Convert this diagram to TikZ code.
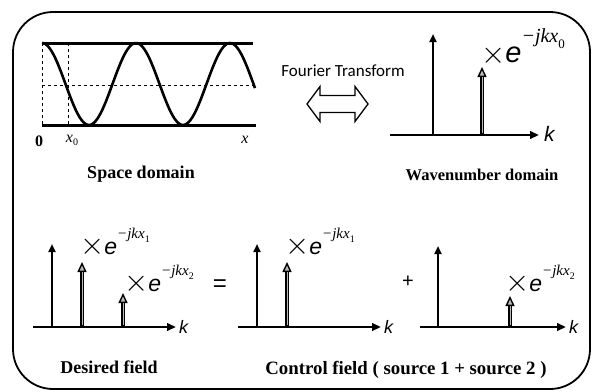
\documentclass[tikz,border=0pt]{standalone}
\usepackage{fontspec}
\setmainfont{Liberation Serif}
\setsansfont{Liberation Sans}
\newfontfamily\calib{Carlito}
\usetikzlibrary{arrows.meta}
% #1 e size, #2 exponent size, #3 raise, #4 subscript, #5 subscript size
\newcommand\mylab[5]{%
  \mbox{\fontsize{#1}{#1}\selectfont\raisebox{-0.04em}{\scalebox{1.25}{$\times$}}\sffamily\textit{e}}%
  \raisebox{#3}{\rmfamily\fontsize{#2}{#2}\selectfont\textit{−jkx}\raisebox{-0.3em}{\fontsize{#5}{#5}\selectfont #4}}}
\newcommand\ghostarrow[2]{%
  \draw[line width=4.6pt, black, -{Triangle[length=10pt,width=9pt,fill=gray!55,line width=1.4pt]}] (#1) -- (#2);
  \draw[line width=0.8pt, gray!55, shorten >=10pt, shorten <=2pt] (#1) -- (#2);}
\begin{document}
\begin{tikzpicture}[x=1pt,y=-1pt,
  stem/.style={line width=2.8pt, -{Triangle[length=8pt,width=7pt]}},
  axisline/.style={line width=2.8pt, -{Triangle[length=9pt,width=7.5pt]}},
  title/.style={font=\fontsize{18}{20}\selectfont\bfseries, anchor=base},
  klab/.style={font=\sffamily\itshape\fontsize{18}{18}\selectfont, anchor=west, inner sep=1pt},
  lab/.style={anchor=base west, inner sep=0pt}]
\useasboundingbox (0,0) rectangle (593,391);
% frame
\draw[line width=1.8pt, rounded corners=40pt] (13,12) rectangle (590,389);

% ---------- space domain ----------
\draw[line width=3pt] (42,43) -- (253,43);
\draw[line width=3pt] (42,125) -- (256,125);
\draw[dashed, line width=0.8pt] (42,43) -- (42,125);
\draw[dashed, line width=0.8pt] (68,43) -- (68,125);
\draw[dashed, line width=0.8pt] (42,85) -- (253,85);
\draw[line width=2.6pt, domain=42:255, samples=120, smooth] plot (\x, {84-41*cos((\x-42)/94*360)});
\node[font=\fontsize{16}{16}\selectfont\bfseries] (zero) at (39,141) {0};
\node[font=\fontsize{16}{16}\selectfont] (xz) at (72,140) {\textit{x}\raisebox{-3pt}{\fontsize{10}{10}\selectfont 0}};
\node[font=\fontsize{16}{16}\selectfont] (xx) at (245,140) {\textit{x}};
\node[title] (sd) at (141,178) {Space domain};

% ---------- Fourier transform ----------
\node[font=\calib\fontsize{17}{17}\selectfont] (ft) at (343,71) {Fourier Transform};
\draw[line width=1.3pt, line join=miter] (307,104) -- (320,86.5) -- (320,95.5) -- (355,95.5) -- (355,86.5)
  -- (368,104) -- (355,121.5) -- (355,112.5) -- (320,112.5) -- (320,121.5) -- cycle;

% ---------- wavenumber domain ----------
\coordinate (wa0) at (390,135); \coordinate (wa1) at (539,135);
\draw[axisline] (wa0) -- (wa1);
\node[klab, font=\sffamily\itshape\fontsize{21}{21}\selectfont] (wk) at (543,134) {k};
\coordinate (wb0) at (433,135); \coordinate (wb1) at (433,34);
\draw[stem] (wb0) -- (wb1);
\coordinate (ws0) at (482,135); \coordinate (ws1) at (482,67);
\ghostarrow{ws0}{ws1}
\node[lab] (wl) at (481,62) {\mylab{29}{20}{20pt}{0}{13}};
\node[title, font=\fontsize{16.5}{20}\selectfont\bfseries] (wd) at (482,180) {Wavenumber domain};

% ---------- desired field ----------
\coordinate (da0) at (33,327); \coordinate (da1) at (176,327);
\draw[axisline] (da0) -- (da1);
\node[klab] (dk) at (178,327) {k};
\coordinate (db0) at (52,327); \coordinate (db1) at (52,244);
\draw[stem] (db0) -- (db1);
\coordinate (ds10) at (82,327); \coordinate (ds11) at (82,262);
\ghostarrow{ds10}{ds11}
\coordinate (ds20) at (123,327); \coordinate (ds21) at (123,293);
\ghostarrow{ds20}{ds21}
\node[lab] (dl1) at (80,254) {\mylab{23}{15}{16pt}{1}{10}};
\node[lab] (dl2) at (124,291) {\mylab{23}{15}{16pt}{2}{10}};
\node[title] (df) at (109,373) {Desired field};

\node[font=\sffamily\fontsize{24}{24}\selectfont] (eq) at (220,286) {=};

% ---------- control field, source 1 ----------
\coordinate (ca0) at (238,327); \coordinate (ca1) at (381,327);
\draw[axisline] (ca0) -- (ca1);
\node[klab] (ck) at (383,327) {k};
\coordinate (cb0) at (257,327); \coordinate (cb1) at (257,244);
\draw[stem] (cb0) -- (cb1);
\coordinate (cs0) at (287,327); \coordinate (cs1) at (287,262);
\ghostarrow{cs0}{cs1}
\node[lab] (cl) at (285,254) {\mylab{23}{15}{16pt}{1}{10}};

\node[font=\sffamily\fontsize{20}{20}\selectfont] (pl) at (408,282) {+};

% ---------- control field, source 2 ----------
\coordinate (ea0) at (420,327); \coordinate (ea1) at (566,327);
\draw[axisline] (ea0) -- (ea1);
\node[klab] (ek) at (568,327) {k};
\coordinate (eb0) at (438,327); \coordinate (eb1) at (438,246);
\draw[stem] (eb0) -- (eb1);
\coordinate (es0) at (510,327); \coordinate (es1) at (510,296);
\ghostarrow{es0}{es1}
\node[lab] (el) at (505,291) {\mylab{23}{15}{16pt}{2}{10}};

\node[title, font=\fontsize{18.8}{20}\selectfont\bfseries] (cf) at (406,374) {Control field ( source 1 + source 2 )};
\end{tikzpicture}
\end{document}
